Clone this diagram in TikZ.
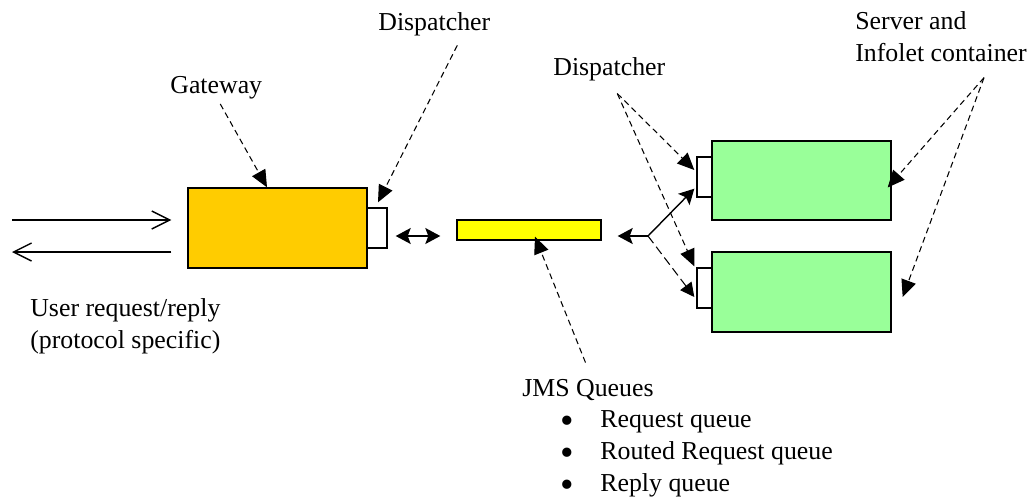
\documentclass[tikz,border=0pt]{standalone}
\usepackage{fontspec}
\setmainfont{Liberation Serif}
\usepackage{tikz}
\usetikzlibrary{arrows.meta}

\definecolor{gwfill}{HTML}{FFCC00}
\definecolor{qfill}{HTML}{FFFF00}
\definecolor{srvfill}{HTML}{99FF99}

\tikzset{
    box/.style={draw, line width=0.8pt, inner sep=0pt},
    lbl/.style={anchor=base west, inner sep=0pt, align=left,
        font=\fontsize{14.7pt}{18.2pt}\selectfont},
    ptr/.style={line width=0.6pt, dash pattern=on 1.2mm off 0.8mm,
        -{Triangle[length=3.4mm,width=3mm]}},
    flow/.style={line width=0.8pt, -{Stealth[length=3mm,width=3.2mm,inset=0.6mm]}}
}

\begin{document}
\begin{tikzpicture}[x=0.02cm, y=-0.02cm]

\useasboundingbox (0,0) rectangle (1031,498);

% Gateway with its dispatcher
\node[box, fill=gwfill, minimum width=3.58cm, minimum height=1.6cm] (gateway) at (277.5,228) {};
\node[box, fill=white, minimum width=0.4cm, minimum height=0.8cm] (gwdisp) at (377,228) {};

% JMS queue bar
\node[box, fill=qfill, minimum width=2.88cm, minimum height=0.4cm] (queue) at (529,230) {};

% Servers with their dispatchers
\node[box, fill=srvfill, minimum width=3.58cm, minimum height=1.58cm] (server1) at (801.5,180.5) {};
\node[box, fill=white, minimum width=0.3cm, minimum height=0.8cm] (disp1) at (704.5,177) {};
\node[box, fill=srvfill, minimum width=3.58cm, minimum height=1.6cm] (server2) at (801.5,292) {};
\node[box, fill=white, minimum width=0.3cm, minimum height=0.8cm] (disp2) at (704.5,288) {};

% Labels (two-line ones sit on their last line)
\node[lbl] (gwlbl) at (170,93) {Gateway};
\node[lbl] (topdisp) at (378,30) {Dispatcher};
\node[lbl] (rdisp) at (553,75.7) {Dispatcher};
\node[lbl] (srvlbl) at (855,61) {Server and\\Infolet container};
\node[lbl] (userlbl) at (30,348) {User request/reply\\(protocol specific)};
\node[lbl] (jmslbl) at (522,396) {JMS Queues};
\foreach \txt [count=\i] in {Request queue, Routed Request queue, Reply queue} {
    \node[inner sep=0pt, font=\fontsize{22pt}{22pt}\selectfont] (bul\i) at (567,393+32*\i) {\textbullet};
    \node[lbl] (item\i) at (600,395+32*\i) {\txt};
}

% User request/reply
\coordinate (userin) at (12,220);
\coordinate (userout) at (12,252);
\draw[line width=0.8pt, -{Straight Barb[length=3.6mm,width=3.6mm]}] (userin) -- ([shift={(-16,-8)}]gateway.west);
\draw[line width=0.8pt, -{Straight Barb[length=3.6mm,width=3.6mm]}] ([shift={(-16,24)}]gateway.west) -- (userout);

% Gateway <-> queue
\draw[line width=0.8pt, {Stealth[length=3mm,width=3.2mm,inset=0.6mm]}-{Stealth[length=3mm,width=3.2mm,inset=0.6mm]}] ([shift={(8,8)}]gwdisp.east) -- ([shift={(-16,6)}]queue.west);

% Fork towards the servers
\coordinate (fork) at (648,236);
\draw[flow] (fork) -- ([shift={(16,6)}]queue.east);
\draw[flow] (fork) -- ([shift={(-2,-9)}]disp1.south west);
\draw[line width=0.6pt, dash pattern=on 1.8mm off 0.9mm, -{Triangle[length=2.8mm,width=2.8mm]}] (fork) -- ([shift={(-2,9)}]disp2.west);

% Pointers from labels
\draw[ptr] ([shift={(4,5)}]gwlbl.south) -- ([shift={(-10.5,0)}]gateway.north);
\draw[ptr] ([shift={(23,9.5)}]topdisp.south) -- ([shift={(1,-5)}]gwdisp.north);
\draw[ptr] ([shift={(8,12)}]rdisp.south) -- ([shift={(-2,-7)}]disp1.west);
\draw[ptr] ([shift={(8,12)}]rdisp.south) -- ([shift={(-2,-1)}]disp2.north west);
\draw[ptr] ([shift={(43,16)}]srvlbl.south) -- ([shift={(-4,7)}]server1.east);
\draw[ptr] ([shift={(43,16)}]srvlbl.south) -- ([shift={(11,5)}]server2.east);
\draw[ptr] ([shift={(-2.5,-16)}]jmslbl.north) -- ([shift={(6,-4)}]queue.south);

\end{tikzpicture}
\end{document}
